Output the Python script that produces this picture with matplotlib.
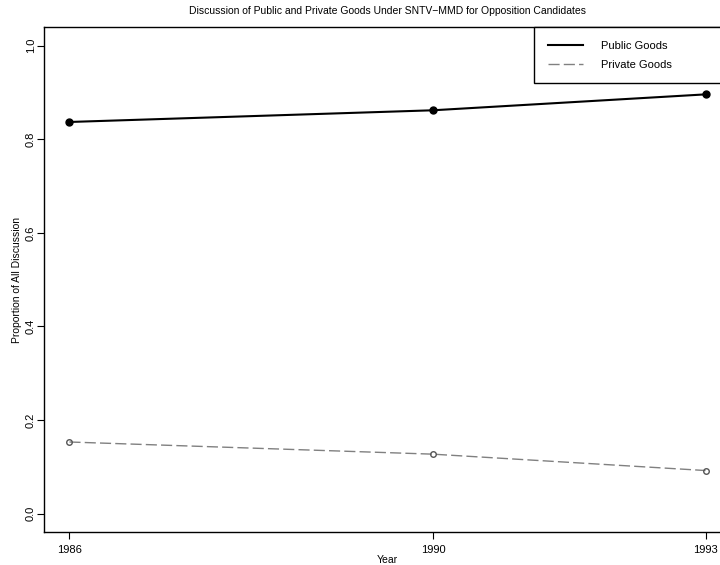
import matplotlib
matplotlib.use("Agg")
import matplotlib.pyplot as plt

years = [1986, 1990, 1993]
public_goods = [0.837, 0.862, 0.896]
private_goods = [0.153, 0.127, 0.092]
y_ticks = [0.0, 0.2, 0.4, 0.6, 0.8, 1.0]
y_tick_labels = ["0.0", "0.2", "0.4", "0.6", "0.8", "1.0"]

plt.rcParams['font.family'] = ['Liberation Sans', 'DejaVu Sans']

W, H = 720, 565
fig = plt.figure(figsize=(W / 100, H / 100), dpi=100)
left, right, top, bottom = 44, 731, 27, 532.3
ax = fig.add_axes([left / W, (H - bottom) / H, (right - left) / W, (bottom - top) / H])

ax.plot(years, public_goods, color='black', lw=1.5, marker='o', ms=5,
        label='Public Goods')
ax.plot(years, private_goods, color='#808080', lw=1.0, ls=(0, (8, 3)),
        marker='o', ms=4, mfc='none', mec='#555555', label='Private Goods')

ax.set_xlim(1985.72, 1993.28)
ax.set_ylim(-0.04, 1.04)
ax.set_xticks(years)
ax.set_xticklabels([str(y) for y in years], fontsize=8)
ax.set_yticks(y_ticks)
ax.set_yticklabels(y_tick_labels, fontsize=8, rotation=90, va='center')
ax.tick_params(direction='out', length=5, width=0.8)
ax.tick_params(axis='x', pad=4)
ax.tick_params(axis='y', pad=1)
for s in ax.spines.values():
    s.set_linewidth(1.0)

ax.set_xlabel('Year', fontsize=7.5, labelpad=0)
ax.set_ylabel('Proportion of All Discussion', fontsize=7.5, labelpad=3)
ax.set_title('Discussion of Public and Private Goods Under SNTV\u2212MMD for Opposition Candidates',
             fontsize=7.5, pad=9)

# legend box from x=534 to axes right edge
lx0 = (534 - left) / (right - left)
leg = ax.legend(loc='upper left', bbox_to_anchor=(lx0, 1.0), borderaxespad=0,
                fancybox=False, edgecolor='black', fontsize=8, handlelength=3.2,
                borderpad=1.25, labelspacing=0.78, handletextpad=1.6, framealpha=1)
leg.get_frame().set_linewidth(1.0)
for h in leg.legend_handles:
    h.set_marker('')
for t in leg.get_texts():
    t.set_text(t.get_text() + ' ' * 14)

fig.savefig('out.png', dpi=100)
